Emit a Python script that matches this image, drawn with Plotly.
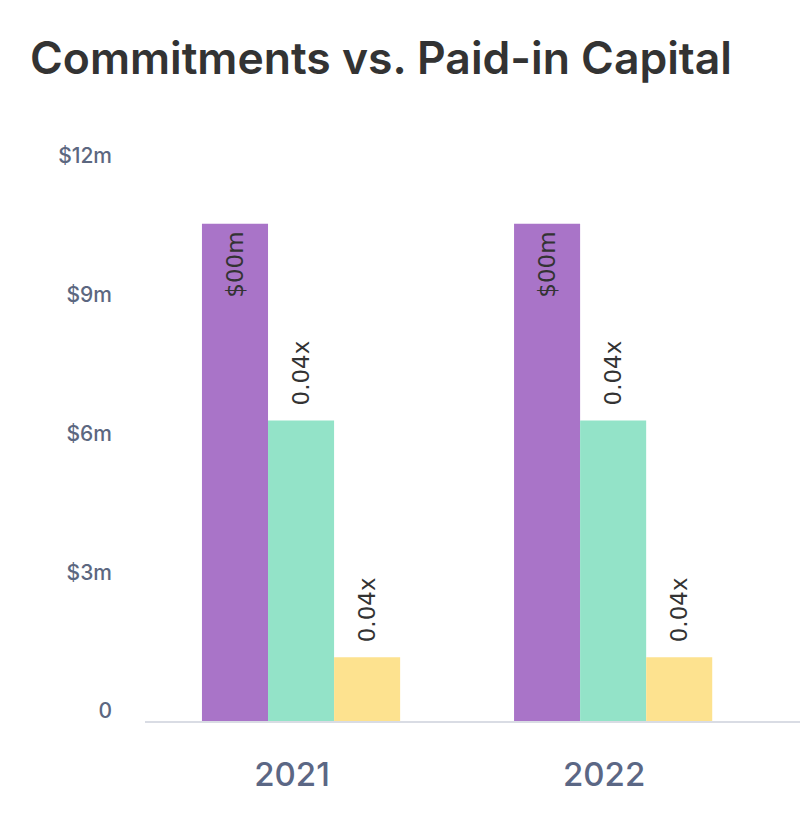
import plotly.graph_objects as go

years = ["2021", "2022"]
commitments = [10.75, 10.75]
paid_in = [6.5, 6.5]
third = [1.38, 1.38]
commit_labels = ["$00m", "$00m"]
paid_labels = ["0.04x", "0.04x"]
third_labels = ["0.04x", "0.04x"]
tick_vals = [0, 3, 6, 9, 12]
tick_text = ["0", "$3m", "$6m", "$9m", "$12m"]

NB = "\u00a0"
TH = "\u2009"
label_font = dict(family="DejaVu Sans, sans-serif", size=23, color="#333333")

# browser body margin offsets the figure by 8px; compensate
OFF = 8

fig = go.Figure()
fig.add_trace(go.Bar(
    x=years, y=commitments, marker_color="#a974c8", marker_line_width=0,
    text=[t + TH for t in commit_labels], textposition="inside", insidetextanchor="end",
    textangle=-90, textfont=label_font, insidetextfont=label_font, cliponaxis=False,
    constraintext="none",
))
fig.add_trace(go.Bar(
    x=years, y=paid_in, marker_color="#93e3c8", marker_line_width=0,
    text=[NB + TH + t for t in paid_labels], textposition="outside",
    textangle=-90, textfont=label_font, outsidetextfont=label_font, cliponaxis=False,
    constraintext="none",
))
fig.add_trace(go.Bar(
    x=years, y=third, marker_color="#fde28f", marker_line_width=0,
    text=[NB + TH + t for t in third_labels], textposition="outside",
    textangle=-90, textfont=label_font, outsidetextfont=label_font, cliponaxis=False,
    constraintext="none",
))

fig.update_layout(
    width=808, height=828,
    barmode="group", bargap=0.365, bargroupgap=0,
    showlegend=False,
    paper_bgcolor="white", plot_bgcolor="white",
    margin=dict(l=145 - OFF, r=0, t=166 - OFF, b=828 - (721 - OFF)),
    title=dict(
        text="Commitments vs. Paid-in Capital",
        font=dict(family="Inter, Noto Sans, sans-serif", size=44.5, color="#333333", weight=600),
        x=(30 - OFF) / 808, xanchor="left", xref="container",
        y=1 - (58 - OFF) / 828, yanchor="middle", yref="container",
    ),
    xaxis=dict(
        range=[-0.5, 1.65], showgrid=False, zeroline=False,
        showline=True, linecolor="#d9dce4", linewidth=1.5,
        ticks="", tickfont=dict(family="Inter, Noto Sans, sans-serif", size=33, color="#5b6785", weight=500),
        ticklabelstandoff=24, ticklabelshift=-9,
    ),
    yaxis=dict(
        range=[0, 12], showgrid=False, zeroline=False, showline=False,
        tickvals=tick_vals, ticktext=tick_text, ticks="",
        tickfont=dict(family="Inter, Noto Sans, sans-serif", size=21, color="#5c6780", weight=500),
        ticklabelstandoff=32, ticklabelshift=-10,
    ),
)

fig.write_html("out.html")
